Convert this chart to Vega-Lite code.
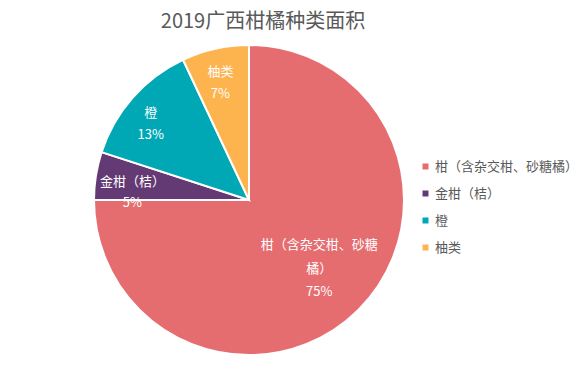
{
  "$schema": "https://vega.github.io/schema/vega-lite/v6.json",
  "width": 498,
  "height": 318,
  "padding": {"left": 0, "top": 12, "right": 0, "bottom": 0},
  "background": "white",
  "title": {
    "text": "2019广西柑橘种类面积",
    "font": "Noto Sans CJK SC",
    "fontSize": 20,
    "fontWeight": "normal",
    "color": "#595959",
    "anchor": "middle",
    "dx": 14,
    "offset": 9
  },
  "config": {"view": {"stroke": null}},
  "data": {
    "values": [
      {"idx": 1, "name": "柑（含杂交柑、砂糖橘）", "value": 75, "label": "柑（含杂交柑、砂糖\n橘）\n75%"},
      {"idx": 2, "name": "金柑（桔）", "value": 5, "label": "金柑（桔）\n5%"},
      {"idx": 3, "name": "橙", "value": 13, "label": "橙\n13%"},
      {"idx": 4, "name": "柚类", "value": 7, "label": "柚类\n7%"}
    ]
  },
  "encoding": {
    "theta": {"field": "value", "type": "quantitative", "stack": true},
    "order": {"field": "idx", "type": "quantitative"}
  },
  "layer": [
    {
      "mark": {"type": "arc", "outerRadius": 155, "stroke": "white", "strokeWidth": 2},
      "encoding": {
        "color": {
          "field": "name",
          "type": "nominal",
          "sort": null,
          "scale": {
            "domain": ["柑（含杂交柑、砂糖橘）", "金柑（桔）", "橙", "柚类"],
            "range": ["#E66D6F", "#643A74", "#00A8B6", "#FDB44F"]
          },
          "legend": {
            "title": null,
            "orient": "none",
            "legendX": 419,
            "legendY": 119,
            "symbolType": "square",
            "symbolSize": 36,
            "symbolStrokeWidth": 0,
            "labelFont": "Noto Sans CJK SC",
            "labelFontSize": 13,
            "labelColor": "#595959",
            "labelLimit": 200,
            "labelOffset": 3,
            "rowPadding": 13
          }
        }
      }
    },
    {
      "mark": {"type": "text", "radius": 95, "dx": 3, "dy": -22, "lineBreak": "\n", "lineHeight": 23.5, "fontSize": 13, "font": "Noto Sans CJK SC", "fill": "white"},
      "encoding": {
        "detail": {"field": "name", "type": "nominal"},
        "text": {"condition": {"test": "datum.idx === 1", "field": "label"}, "value": ""}
      }
    },
    {
      "mark": {"type": "text", "radius": 118, "lineBreak": "\n", "lineHeight": 21, "fontSize": 13, "font": "Noto Sans CJK SC", "fill": "white"},
      "encoding": {
        "detail": {"field": "name", "type": "nominal"},
        "text": {"condition": {"test": "datum.idx === 2", "field": "label"}, "value": ""}
      }
    },
    {
      "mark": {"type": "text", "radius": 131, "lineBreak": "\n", "lineHeight": 21.5, "fontSize": 13, "font": "Noto Sans CJK SC", "fill": "white"},
      "encoding": {
        "detail": {"field": "name", "type": "nominal"},
        "text": {"condition": {"test": "datum.idx >= 3", "field": "label"}, "value": ""}
      }
    }
  ]
}
